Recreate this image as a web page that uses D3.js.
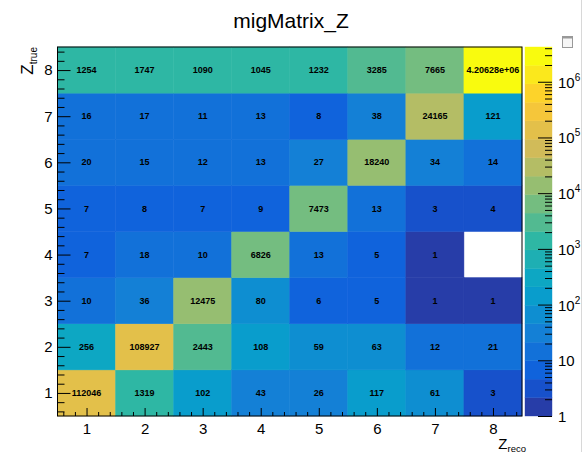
<!DOCTYPE html>
<html><head><meta charset="utf-8">
<script src="https://cdn.jsdelivr.net/npm/d3@7"></script>
<style>html,body{margin:0;padding:0;background:#fff;} svg{display:block;} text{font-family:"Liberation Sans",Arial,Helvetica,sans-serif;}</style>
</head><body><div id="chart"></div>
<script>
// ---- data ----
const title = "migMatrix_Z";
const recoBins = [1, 2, 3, 4, 5, 6, 7, 8];
const trueBins = [1, 2, 3, 4, 5, 6, 7, 8];
// counts per true bin (row), by reco bin (column); 0 = empty bin
const true1 = [112046, 1319, 102, 43, 26, 117, 61, 3];
const true2 = [256, 108927, 2443, 108, 59, 63, 12, 21];
const true3 = [10, 36, 12475, 80, 6, 5, 1, 1];
const true4 = [7, 18, 10, 6826, 13, 5, 1, 0];
const true5 = [7, 8, 7, 9, 7473, 13, 3, 4];
const true6 = [20, 15, 12, 13, 27, 18240, 34, 14];
const true7 = [16, 17, 11, 13, 8, 38, 24165, 121];
const true8 = [1254, 1747, 1090, 1045, 1232, 3285, 7665, 4206280];
const rows = [true1, true2, true3, true4, true5, true6, true7, true8];
const zTickValues = [1, 10, 100, 1000, 10000, 100000, 1000000];
const zTickBase = ["1", "10", "10", "10", "10", "10", "10"];
const zTickExp = ["", "", "2", "3", "4", "5", "6"];
const nContours = 20;

// ---- bird palette ----
const pStops = [0.0000, 0.1250, 0.2500, 0.3750, 0.5000, 0.6250, 0.7500, 0.8750, 1.0000];
const pRed = [0.2082, 0.0592, 0.0780, 0.0232, 0.1802, 0.5301, 0.8186, 0.9956, 0.9764];
const pGreen = [0.1664, 0.3599, 0.5041, 0.6419, 0.7178, 0.7492, 0.7328, 0.7862, 0.9832];
const pBlue = [0.5293, 0.8684, 0.8385, 0.7914, 0.6425, 0.4662, 0.3499, 0.1968, 0.0539];
function birdAt(f) {
  let s = 1;
  while (s < pStops.length - 1 && f > pStops[s]) s++;
  const t = (f - pStops[s - 1]) / (pStops[s] - pStops[s - 1]);
  const c = a => Math.round(255 * (a[s - 1] + t * (a[s] - a[s - 1])));
  return d3.rgb(c(pRed), c(pGreen), c(pBlue)).formatHex();
}
function bandColor(i) {
  const k = Math.min(254, Math.floor((i + 0.99) * 255 / nContours));
  return birdAt(k / 254);
}

// ---- layout ----
const W = 587, H = 452;
const L = 57.5, R = 522, T = 47, B = 416;
const cbX0 = 525, cbX1 = 552;

const svg = d3.select("#chart").append("svg").attr("width", W).attr("height", H);

const x = d3.scaleLinear().domain([0.5, 8.5]).range([L, R]);
const y = d3.scaleLinear().domain([0.5, 8.5]).range([B, T]);
const allVals = rows.flat().filter(v => v > 0);
const zMin = 1, zMax = d3.max(allVals);
const z = d3.scaleLog().domain([zMin, zMax]).range([B, T]);
const lzMax = Math.log10(zMax);
function band(v) { return Math.max(0, Math.min(nContours - 1, Math.floor(Math.log10(v) / lzMax * nContours))); }

function fmtG(v) {
  if (v >= 1e6) {
    const [m, e] = v.toExponential(5).split("e");
    const ex = parseInt(e, 10);
    return m + "e" + (ex < 0 ? "-" : "+") + String(Math.abs(ex)).padStart(2, "0");
  }
  return String(v);
}

// cells
const cells = [];
rows.forEach((r, ti) => r.forEach((v, ri) => cells.push({ reco: recoBins[ri], tru: trueBins[ti], v })));
const filled = cells.filter(d => d.v > 0);

svg.append("g").selectAll("rect").data(filled).join("rect")
  .attr("x", d => x(d.reco - 0.5))
  .attr("y", d => y(d.tru + 0.5))
  .attr("width", d => x(d.reco + 0.5) - x(d.reco - 0.5))
  .attr("height", d => y(d.tru - 0.5) - y(d.tru + 0.5))
  .attr("fill", d => bandColor(band(d.v)))
  .attr("stroke", d => bandColor(band(d.v)))
  .attr("stroke-width", 0.5);

svg.append("g").selectAll("text").data(filled).join("text")
  .attr("x", d => x(d.reco))
  .attr("y", d => y(d.tru))
  .attr("dy", "0.35em")
  .attr("text-anchor", "middle")
  .attr("font-size", 9)
  .attr("font-weight", "bold")
  .attr("fill", "#000")
  .text(d => fmtG(d.v));

// frame
svg.append("rect").attr("x", L).attr("y", T).attr("width", R - L).attr("height", B - T)
  .attr("fill", "none").attr("stroke", "#000").attr("stroke-width", 1);

// axes
const majors = d3.range(1, 9);
const minors = d3.range(0.6, 8.45, 0.2).filter(v => Math.abs(v - Math.round(v)) > 0.05);

const gx = svg.append("g").attr("transform", `translate(0,${B})`);
gx.call(d3.axisBottom(x).tickValues(majors).tickSize(-8).tickPadding(7).tickFormat(d3.format("d")));
gx.append("g").call(d3.axisBottom(x).tickValues(minors).tickSize(-4).tickFormat(""));
gx.selectAll(".domain").remove();
gx.selectAll("text").attr("font-size", 15).attr("fill", "#000").style("font-family", "Liberation Sans, Arial, sans-serif");
gx.selectAll("line").attr("stroke", "#000");

const gy = svg.append("g").attr("transform", `translate(${L},0)`);
gy.call(d3.axisLeft(y).tickValues(majors).tickSize(-13).tickPadding(5).tickFormat(d3.format("d")));
gy.append("g").call(d3.axisLeft(y).tickValues(minors).tickSize(-7).tickFormat(""));
gy.selectAll(".domain").remove();
gy.selectAll("text").attr("font-size", 15).attr("fill", "#000").style("font-family", "Liberation Sans, Arial, sans-serif");
gy.selectAll("line").attr("stroke", "#000");

// axis titles
const xt = svg.append("text").attr("x", 526).attr("y", 449).attr("text-anchor", "end").attr("font-size", 15);
xt.append("tspan").text("Z");
xt.append("tspan").attr("font-size", 9.5).attr("dy", 2.5).text("reco");

const yt = svg.append("text").attr("transform", `translate(33,${T}) rotate(-90)`).attr("text-anchor", "end").attr("font-size", 17);
yt.append("tspan").text("Z");
yt.append("tspan").attr("font-size", 10).attr("dy", 4).text("true");

// title
svg.append("text").attr("x", 291).attr("y", 28).attr("text-anchor", "middle").attr("font-size", 21).text(title);

// colour bar
const edges = d3.range(nContours + 1).map(i => Math.pow(10, i * lzMax / nContours));
svg.append("g").selectAll("rect").data(d3.range(nContours)).join("rect")
  .attr("x", cbX0).attr("width", cbX1 - cbX0)
  .attr("y", i => z(edges[i + 1]))
  .attr("height", i => z(edges[i]) - z(edges[i + 1]))
  .attr("fill", i => bandColor(i))
  .attr("stroke", i => bandColor(i)).attr("stroke-width", 0.4);

const zMinor = [];
for (let d = 0; d <= 6; d++) for (let m = 2; m <= 9; m++) { const v = m * Math.pow(10, d); if (v <= zMax) zMinor.push(v); }
const gz = svg.append("g").attr("transform", `translate(${cbX1},0)`);
gz.call(d3.axisRight(z).tickValues(zTickValues).tickSize(-14).tickFormat(""));
gz.append("g").call(d3.axisRight(z).tickValues(zMinor).tickSize(-7).tickFormat(""));
gz.selectAll(".domain").remove();
gz.selectAll("line").attr("stroke", "#000");

const zl = svg.append("g").selectAll("text").data(zTickValues).join("text")
  .attr("x", cbX1 + 6).attr("y", d => z(d)).attr("dy", "0.4em").attr("font-size", 15).attr("fill", "#000");
zl.append("tspan").text((d, i) => zTickBase[i]);
zl.append("tspan").attr("font-size", 10).attr("dy", -7).text((d, i) => zTickExp[i]);

// small toolbar icon and right edge line
svg.append("rect").attr("x", 562.5).attr("y", 36.5).attr("width", 10).attr("height", 11).attr("fill", "#f6f6f6").attr("stroke", "#999");
svg.append("rect").attr("x", 562.5).attr("y", 36.5).attr("width", 10).attr("height", 2).attr("fill", "#999");
svg.append("line").attr("x1", 581.5).attr("x2", 581.5).attr("y1", 0).attr("y2", H).attr("stroke", "#d8d8d8");
</script></body></html>
